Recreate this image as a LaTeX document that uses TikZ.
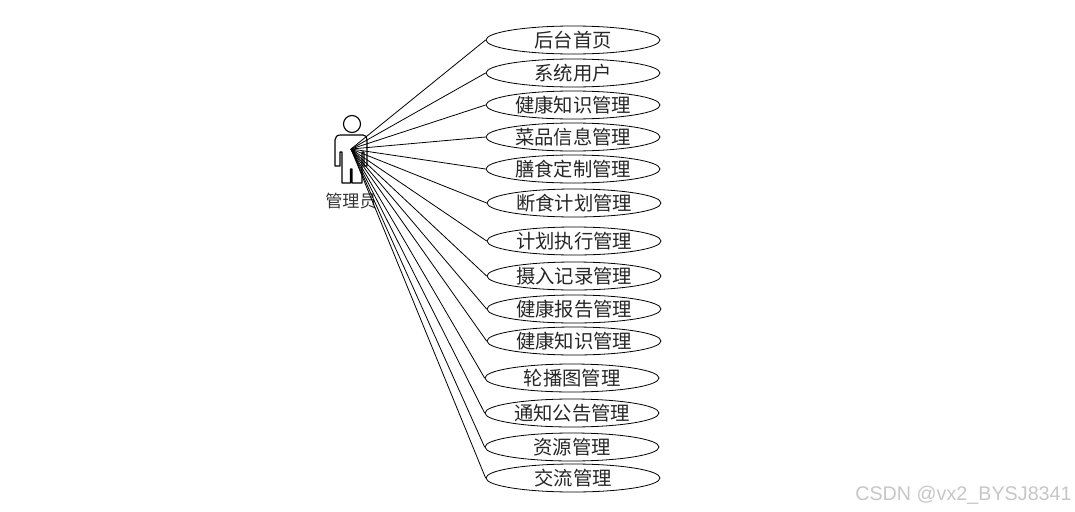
\documentclass[tikz,border=0pt]{standalone}
\usepackage{fontspec}
\setmainfont{Liberation Sans}
\newfontfamily\cjk{Noto Sans CJK SC}[Scale=1]
\usetikzlibrary{shapes.geometric}
\tikzset{
  uc/.style={ellipse,draw=black,line width=0.6pt,minimum width=174*0.75pt,minimum height=28*0.75pt,inner sep=0pt,font=\cjk\fontsize{14.5pt}{16pt}\selectfont,text=black!85},
  link/.style={draw=black,line width=0.6pt},
  actorline/.style={draw=black,line width=0.85pt,fill=white,line join=round},
  lbl/.style={font=\cjk\fontsize{12.8pt}{15pt}\selectfont,text=black!80,inner sep=0pt},
  wmark/.style={font=\fontsize{14.8pt}{16pt}\selectfont,text=black!22,inner sep=0pt}
}
\begin{document}
\begin{tikzpicture}[x=0.75pt,y=-0.75pt]
\useasboundingbox (0,0) rectangle (1075,511);
\fill[white] (0,0) rectangle (1075,511);
% actor
\draw[actorline] (352,124) circle (8.5);
\draw[actorline] (340.5,135) -- (363,135) .. controls (366,135) and (367,137) .. (367,140) -- (367,166) -- (364,166) -- (364,152) -- (362,152) -- (362,183) -- (352,183) -- (352,169) -- (350.5,169) -- (350.5,183) -- (342,183) -- (342,152) -- (340,152) -- (340,166) -- (335,166) -- (335,140) .. controls (335,137) and (337,135) .. (340.5,135) -- cycle;
\coordinate (hub) at (351,149);
\node[lbl] (admin) at (351,201) {管理员};
% use cases
\node[uc] (u1) at (573,40) {后台首页};
\node[uc] (u2) at (573,73) {系统用户};
\node[uc] (u3) at (573,105) {健康知识管理};
\node[uc] (u4) at (573,137) {菜品信息管理};
\node[uc] (u5) at (573,169) {膳食定制管理};
\node[uc] (u6) at (574,203) {断食计划管理};
\node[uc] (u7) at (574,241) {计划执行管理};
\node[uc] (u8) at (574,276) {摄入记录管理};
\node[uc] (u9) at (574,309) {健康报告管理};
\node[uc] (u10) at (574,341) {健康知识管理};
\node[uc] (u11) at (572,378) {轮播图管理};
\node[uc] (u12) at (572,413) {通知公告管理};
\node[uc] (u13) at (572,447) {资源管理};
\node[uc] (u14) at (573,478) {交流管理};
\foreach \n in {1,...,14} \draw[link] (hub) -- (u\n.west);
\node[wmark] (wm) at (963.5,495.5) {CSDN @vx2\_BYSJ8341};
\end{tikzpicture}
\end{document}
